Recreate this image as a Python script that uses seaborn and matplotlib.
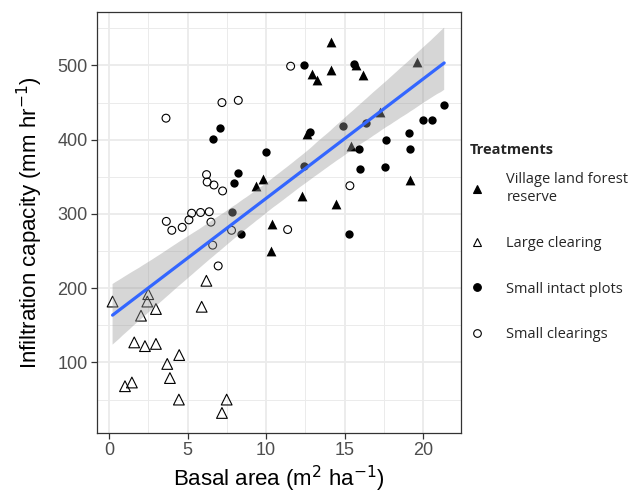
import numpy as np
import pandas as pd
import matplotlib
matplotlib.use("Agg")
import matplotlib.pyplot as plt
from matplotlib.lines import Line2D
from matplotlib.ticker import MultipleLocator
import seaborn as sns

# ---- data ----
village_x = [9.35, 9.82, 14.12, 12.93, 13.25, 14.12, 15.69, 16.16, 19.57, 17.24,
             12.6, 15.4, 12.3, 14.46, 19.15, 10.39, 10.29]
village_y = [338, 347, 531, 489, 480, 494, 500, 487, 504, 437,
             408, 391, 324, 313, 346, 286, 250]

large_x = [0.23, 2.5, 2.44, 2.99, 2.04, 5.9, 6.2, 1.61, 2.29, 2.99,
           4.47, 3.71, 3.88, 1.02, 1.46, 4.45, 7.49, 7.19]
large_y = [182, 192, 182, 172, 163, 175, 210, 127, 122, 125,
           110, 98, 79, 68, 73, 50, 50, 32]

intact_x = [7.04, 6.64, 9.99, 8.21, 7.97, 7.82, 8.38, 12.39, 12.8, 14.9,
            16.35, 12.42, 15.92, 15.96, 17.6, 17.58, 19.1, 19.15, 20.0, 20.57,
            21.33, 15.29, 15.6]
intact_y = [416, 401, 384, 355, 342, 302, 273, 501, 411, 418,
            423, 364, 387, 361, 399, 363, 409, 387, 427, 426,
            447, 273, 502]

clear_x = [3.63, 7.19, 8.23, 6.21, 6.25, 6.68, 7.23, 5.26, 5.83, 6.38,
           3.65, 4.0, 4.66, 5.09, 6.49, 7.8, 6.6, 6.95, 11.56, 15.33, 11.37]
clear_y = [429, 450, 453, 353, 343, 339, 331, 301, 302, 303,
           290, 278, 282, 292, 289, 278, 258, 230, 499, 338, 279]

treatments = ["Village land forest reserve", "Large clearing",
              "Small intact plots", "Small clearings"]
legend_labels = ["Village land forest\nreserve", "Large clearing",
                 "Small intact plots", "Small clearings"]
legend_title = "Treatments"
x_ticks = [0, 5, 10, 15, 20]
y_ticks = [100, 200, 300, 400, 500]

df = pd.concat([
    pd.DataFrame({"basal": village_x, "infil": village_y, "trt": treatments[0]}),
    pd.DataFrame({"basal": large_x, "infil": large_y, "trt": treatments[1]}),
    pd.DataFrame({"basal": intact_x, "infil": intact_y, "trt": treatments[2]}),
    pd.DataFrame({"basal": clear_x, "infil": clear_y, "trt": treatments[3]}),
], ignore_index=True)

sns.set_theme(style="white")
plt.rcParams["font.family"] = ["Liberation Sans", "DejaVu Sans"]

fig = plt.figure(figsize=(6.3, 4.96), dpi=100)
ax = fig.add_axes([97 / 630, 1 - 433 / 496, (461 - 97) / 630, (433 - 12) / 496])

styles = {
    treatments[0]: dict(marker="^", s=50, facecolor="black", edgecolor="black", linewidth=0),
    treatments[1]: dict(marker="^", s=60, facecolor="none", edgecolor="black", linewidth=0.8),
    treatments[2]: dict(marker="o", s=36, facecolor="black", edgecolor="black", linewidth=0),
    treatments[3]: dict(marker="o", s=32, facecolor="none", edgecolor="black", linewidth=0.8),
}
for t in treatments:
    sub = df[df["trt"] == t]
    sns.scatterplot(data=sub, x="basal", y="infil", ax=ax, zorder=2, legend=False, **styles[t])

sns.regplot(data=df, x="basal", y="infil", ax=ax, scatter=False, ci=95, seed=3,
            n_boot=2000, color="#3366FF", line_kws=dict(lw=2.3, zorder=4))
for coll in ax.collections:
    if coll.__class__.__name__ in ("PolyCollection", "FillBetweenPolyCollection"):
        coll.set_facecolor("#999999")
        coll.set_alpha(0.4)
        coll.set_edgecolor("none")
        coll.set_zorder(3)

ax.set_xlim(-0.76, 22.4)
ax.set_ylim(5, 572)
ax.set_xticks(x_ticks)
ax.set_yticks(y_ticks)
ax.xaxis.set_minor_locator(MultipleLocator(2.5))
ax.yaxis.set_minor_locator(MultipleLocator(50))
ax.grid(True, which="major", color="#EBEBEB", lw=1.3, zorder=0)
ax.grid(True, which="minor", color="#EBEBEB", lw=0.7, zorder=0)
ax.set_axisbelow(True)
for sp in ax.spines.values():
    sp.set_color("#333333")
    sp.set_linewidth(0.9)
ax.tick_params(which="major", length=4.3, width=0.9, color="#333333",
               labelsize=13, labelcolor="#4D4D4D", pad=2.5, bottom=True, left=True)
ax.tick_params(which="minor", length=0, bottom=False, left=False)

ax.set_xlabel("Basal area (m$^{2}$ ha$^{-1}$)", fontsize=16, color="black", labelpad=3)
ax.set_ylabel("Infiltration capacity (mm hr$^{-1}$)", fontsize=16, color="black", labelpad=9)

handles = []
for t in treatments:
    st = styles[t]
    handles.append(Line2D([], [], linestyle="none", marker=st["marker"],
                          markersize=6 if st["marker"] == "^" else 5.5,
                          markerfacecolor=st["facecolor"], markeredgecolor="black",
                          markeredgewidth=0.8))
leg = fig.legend(handles, legend_labels,
                 loc="upper left", bbox_to_anchor=(470 / 630, 1 - 172 / 496),
                 frameon=False, handlelength=1.0, handletextpad=1.5,
                 labelspacing=2.1, borderpad=0, borderaxespad=0,
                 prop={"family": "Open Sans", "size": 10.5})
for txt in leg.get_texts():
    txt.set_linespacing(1.3)
fig.text(470 / 630, 1 - 150 / 496, legend_title, ha="left", va="center",
         family="Open Sans", fontsize=10.5, fontweight="bold")

fig.savefig("out.png", dpi=100)
